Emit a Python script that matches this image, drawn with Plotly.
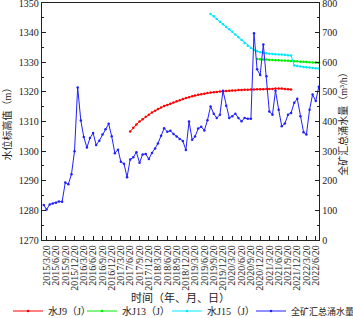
import plotly.graph_objects as go

# ---------------- data ----------------
tick_labels = [
    "2015/3/20", "2015/6/20", "2015/9/20", "2015/12/20",
    "2016/3/20", "2016/6/20", "2016/9/20", "2016/12/20",
    "2017/3/20", "2017/6/20", "2017/9/20", "2017/12/20",
    "2018/3/20", "2018/6/20", "2018/9/20", "2018/12/20",
    "2019/3/20", "2019/6/20", "2019/9/20", "2019/12/20",
    "2020/3/20", "2020/6/20", "2020/9/20", "2020/12/20",
    "2021/3/20", "2021/6/20", "2021/9/20", "2021/12/20",
    "2022/3/20", "2022/6/20",
]
left_ticks = [1270, 1280, 1290, 1300, 1310, 1320, 1330, 1340, 1350]
right_ticks = [0, 100, 200, 300, 400, 500, 600, 700, 800]

# monthly observation dates, 2015/2/20 .. 2022/7/20
dates = [f"{2015 + (1 + i) // 12}-{(1 + i) % 12 + 1:02d}-20" for i in range(90)]

total_inflow = [
    118, 103, 120, 123, 126, 130, 129, 194, 188, 222,
    300, 515, 403, 348, 312, 344, 361, 321, 335, 356,
    374, 392, 350, 293, 305, 264, 257, 212, 272, 279,
    296, 261, 289, 290, 273, 294, 309, 326, 352, 377,
    365, 369, 358, 349, 341, 334, 304, 400, 338, 349,
    376, 382, 370, 404, 451, 426, 412, 423, 504, 453,
    412, 418, 426, 412, 401, 412, 409, 409, 698, 576,
    557, 660, 553, 434, 423, 504, 440, 384, 393, 423,
    429, 463, 477, 418, 364, 356, 440, 491, 469, 517,
]

j9_dates = dates[28:81]
j9_level = [
    1306.6, 1307.9, 1309.0, 1310.0, 1310.8, 1311.6, 1312.3, 1313.0, 1313.6, 1314.2,
    1314.7, 1315.2, 1315.6, 1316.0, 1316.4, 1316.8, 1317.2, 1317.6, 1317.9, 1318.2,
    1318.5, 1318.8, 1319.0, 1319.2, 1319.4, 1319.6, 1319.8, 1319.9, 1320.0, 1320.1,
    1320.2, 1320.3, 1320.4, 1320.5, 1320.5, 1320.6, 1320.6, 1320.7, 1320.7, 1320.8,
    1320.8, 1320.9, 1320.9, 1320.9, 1321.0, 1321.0, 1321.0, 1321.1, 1321.1, 1321.1,
    1321.0, 1320.9, 1320.8,
]

j13_dates = dates[69:90]
j13_level = [
    1331.1, 1331.0, 1330.95, 1330.9, 1330.8, 1330.75, 1330.7, 1330.65, 1330.6, 1330.55,
    1330.5, 1330.4, 1330.35, 1330.3, 1330.2, 1330.15, 1330.1, 1330.0, 1329.95, 1329.9,
    1329.8,
]

j15_dates = dates[54:90]
j15_level = [
    1346.3, 1345.5, 1344.6, 1343.7, 1342.8, 1341.9, 1341.1, 1340.3, 1339.4, 1338.4,
    1337.5, 1336.5, 1335.6, 1334.8, 1334.1, 1333.7, 1333.4, 1333.2, 1333.0, 1332.9,
    1332.8, 1332.7, 1332.6, 1332.6, 1332.5, 1332.4, 1332.3, 1328.9, 1328.7, 1328.6,
    1328.4, 1328.3, 1328.2, 1328.1, 1328.0, 1327.9,
]

# ---------------- style ----------------
FONT = "Liberation Serif, Times New Roman, Noto Sans CJK SC, serif"
AXC = "#222222"
W, H = 353, 318
ML, MR, MT, MB = 42, 34, 3, 78
PW = W - ML - MR
PH = H - MT - MB

def to_iso(lbl):
    y, m, d = lbl.split("/")
    return f"{y}-{int(m):02d}-{int(d):02d}"

tick_vals = [to_iso(t) for t in tick_labels]

fig = go.Figure()

series = [
    (j9_dates, j9_level, "水J9（J）", "#FF0000", "y", "legend"),
    (j13_dates, j13_level, "水J13（J）", "#00EE00", "y", "legend2"),
    (j15_dates, j15_level, "水J15（J）", "#00E8FF", "y", "legend3"),
    (dates, total_inflow, "全矿汇总涌水量", "#2020FF", "y2", "legend4"),
]
for xs, ys, name, col, yax, lg in series:
    fig.add_trace(go.Scatter(
        x=xs, y=ys, name=name, mode="lines+markers", yaxis=yax, legend=lg,
        line=dict(color=col, width=1), marker=dict(size=2.5, color=col),
    ))

def px_x(p):
    return (p - ML) / PW

leg_y = 1 - (311 - MT) / PH

def leg(text_start, size=10):
    return dict(
        orientation="h", x=px_x(text_start - 38), xanchor="left", y=leg_y,
        yanchor="middle", font=dict(size=size), itemwidth=30,
        bgcolor="rgba(0,0,0,0)", borderwidth=0,
    )

fig.update_layout(
    width=W, height=H,
    margin=dict(l=ML, r=MR, t=MT, b=MB, autoexpand=False),
    paper_bgcolor="white", plot_bgcolor="white",
    font=dict(family=FONT, size=10, color="#222222"),
    showlegend=True,
    legend=leg(46), legend2=leg(120), legend3=leg(205), legend4=leg(289, 9),
    xaxis=dict(
        type="date", range=["2015-02-03", "2022-07-22"],
        tickmode="array", tickvals=tick_vals, ticktext=tick_labels,
        tickangle=-90, tickfont=dict(size=10),
        ticks="inside", ticklen=4, tickcolor=AXC,
        showline=True, linecolor=AXC, linewidth=1.3, mirror=True,
        showgrid=False, zeroline=False, automargin=False,
        title=dict(text="时间（年、月、日）", font=dict(size=11), standoff=2),
    ),
    yaxis=dict(
        range=[1270, 1350], tickmode="array", tickvals=left_ticks,
        ticks="inside", ticklen=4, tickcolor=AXC, ticklabeloverflow="allow",
        minor=dict(dtick=5, ticks="inside", ticklen=2, tickcolor=AXC),
        showline=True, linecolor=AXC, linewidth=1.3,
        showgrid=False, zeroline=False, automargin=False,
        title=dict(text="水位标高值（m）", font=dict(size=10), standoff=5),
    ),
    yaxis2=dict(
        range=[0, 800], tickmode="array", tickvals=right_ticks,
        overlaying="y", side="right", ticklabeloverflow="allow",
        ticks="inside", ticklen=4, tickcolor=AXC,
        minor=dict(dtick=50, ticks="inside", ticklen=2, tickcolor=AXC),
        showline=True, linecolor=AXC, linewidth=1.3,
        showgrid=False, zeroline=False, automargin=False,
        title=dict(text="全矿汇总涌水量（m³/h）", font=dict(size=10), standoff=3),
    ),
)

fig.write_html(
    "out.html",
    config={"displayModeBar": False},
    post_script="document.body.style.margin='0px';document.body.style.overflow='hidden';",
)
